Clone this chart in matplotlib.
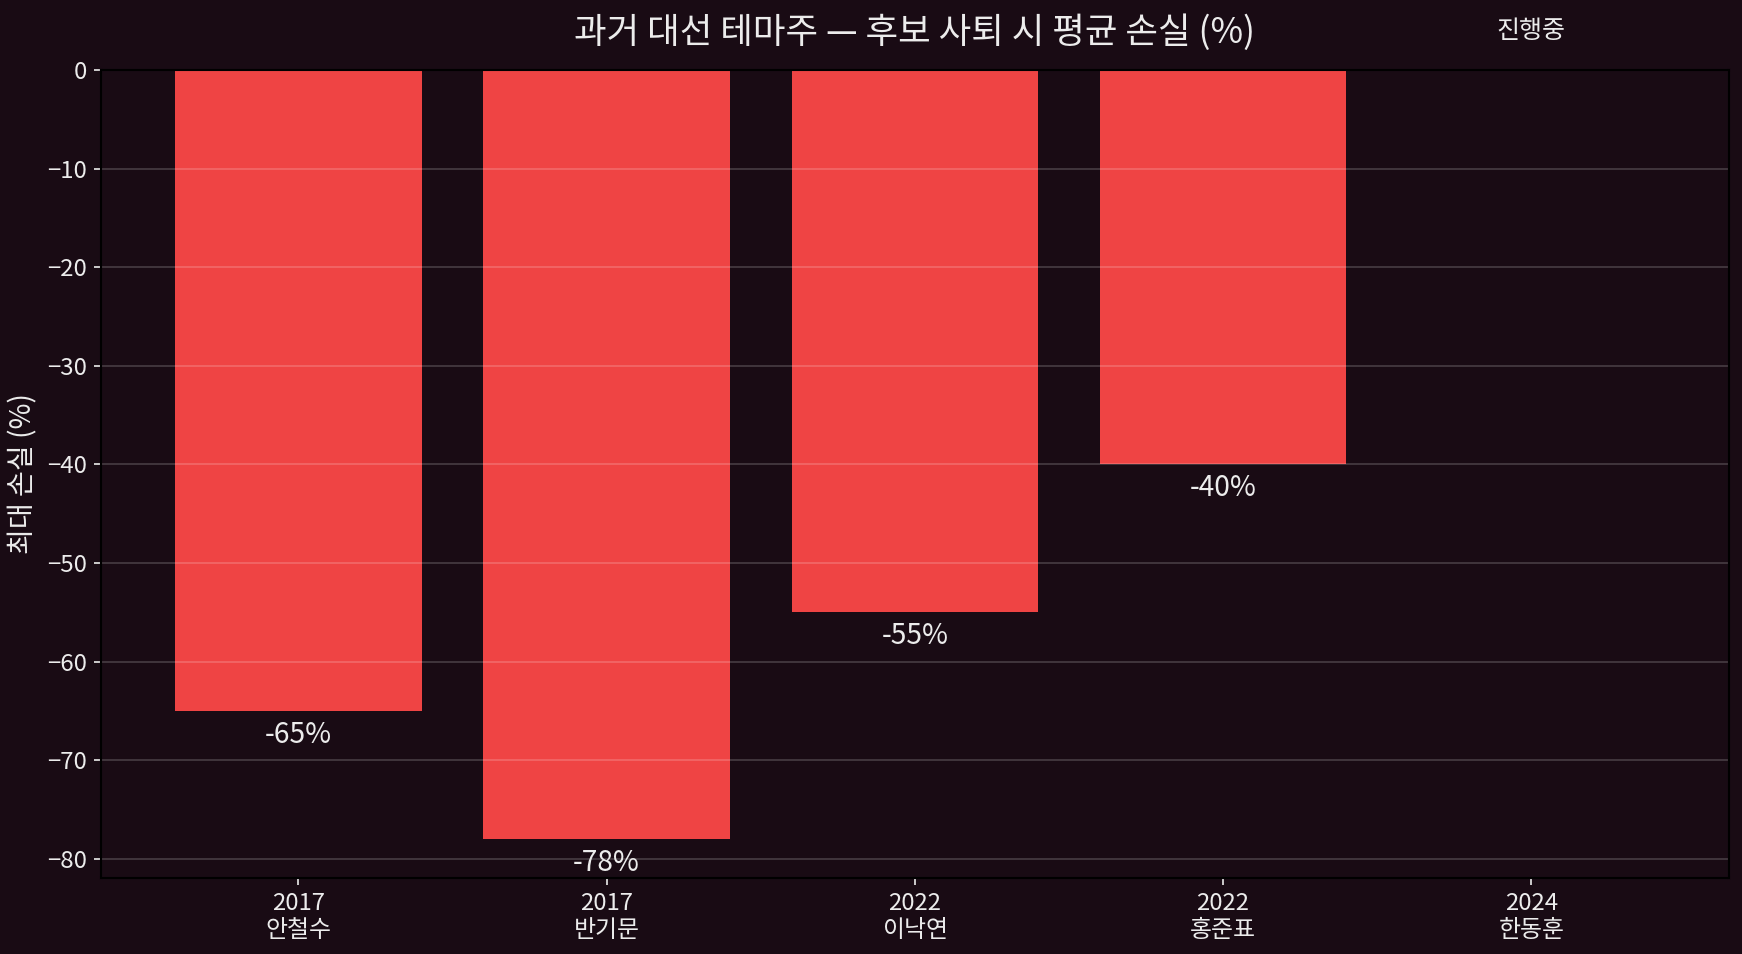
import matplotlib
matplotlib.use("Agg")
import matplotlib.pyplot as plt

plt.rcParams['font.family'] = ['Noto Sans CJK KR', 'DejaVu Sans']

years = ["2017", "2017", "2022", "2022", "2024"]
candidates = ["안철수", "반기문", "이낙연", "홍준표", "한동훈"]
losses = [-65, -78, -55, -40, 0]
status_label = "진행중"

BG = '#190b14'
TXT = '#ececec'
RED = '#ef4444'

fig = plt.figure(figsize=(11.62, 6.36), dpi=150, facecolor=BG)
ax = fig.add_axes([0.058, 0.080, 0.9337, 0.8466])
ax.set_facecolor(BG)

x = list(range(len(losses)))
bars = ax.bar(x, losses, width=0.8, color=RED)

for xi, v in zip(x, losses):
    if v < 0:
        ax.text(xi, v - 0.9, f"{v}%", ha='center', va='top', color=TXT, fontsize=13.5)
    else:
        ax.text(xi, 4.0, status_label, ha='center', va='center', color=TXT,
                fontsize=12, clip_on=False)

ax.set_xticks(x)
ax.set_xticklabels([f"{y}\n{c}" for y, c in zip(years, candidates)])
ax.set_yticks([0, -10, -20, -30, -40, -50, -60, -70, -80])
ax.set_ylim(min(losses) * 1.05, 0)
ax.set_xlim(-0.64, 4.64)

ax.tick_params(colors=TXT, labelsize=11.5, labelcolor=TXT)
ax.yaxis.grid(True, color='white', alpha=0.2, linewidth=0.8)
ax.xaxis.grid(False)
for s in ax.spines.values():
    s.set_color('black')
    s.set_linewidth(1.0)

ax.set_ylabel("최대 손실 (%)", color=TXT, fontsize=13.5)
ax.set_title("과거 대선 테마주 — 후보 사퇴 시 평균 손실 (%)", color=TXT, fontsize=17, pad=13)

fig.savefig("out.png", dpi=150, facecolor=BG)
